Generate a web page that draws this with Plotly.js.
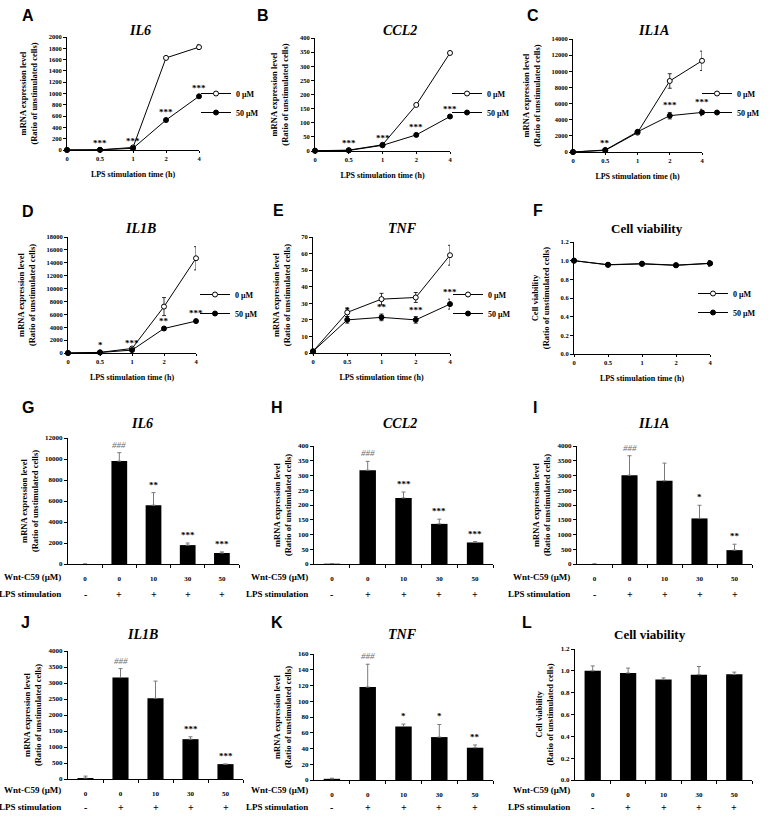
<!DOCTYPE html>
<html><head><meta charset="utf-8">
<script src="https://cdn.plot.ly/plotly-3.0.1.min.js"></script>
<style>html,body{margin:0;padding:0;background:#fff}</style>
</head><body><div id="chart" style="width:771px;height:820px"></div>
<script>
// ---------- DATA ----------
const timeCats = ['0','0.5','1','2','4'];
const seriesNames = ['0 \u03bcM', '50 \u03bcM'];

const il6Time0 = [1, 4, 45, 1630, 1820];
const il6Time0Err = [0, 0, 0, 15, 40];
const il6Time50 = [1, 3, 30, 530, 950];
const il6Time50Err = [0, 0, 0, 20, 20];
const il6TimeSig = ['', '***', '***', '***', '***'];

const ccl2Time0 = [1, 3, 22, 163, 347];
const ccl2Time0Err = [0, 0, 1, 3, 4];
const ccl2Time50 = [1, 2, 20, 57, 122];
const ccl2Time50Err = [0, 0, 1, 2, 3];
const ccl2TimeSig = ['', '***', '***', '***', '***'];

const il1aTime0 = [1, 200, 2400, 8800, 11300];
const il1aTime0Err = [0, 30, 150, 900, 1200];
const il1aTime50 = [1, 250, 2500, 4500, 4900];
const il1aTime50Err = [0, 50, 100, 400, 400];
const il1aTimeSig = ['', '**', '', '***', '***'];

const il1bTime0 = [1, 100, 700, 7200, 14700];
const il1bTime0Err = [0, 30, 100, 1400, 1800];
const il1bTime50 = [1, 80, 450, 3800, 4950];
const il1bTime50Err = [0, 20, 80, 150, 150];
const il1bTimeSig = ['', '*', '***', '**', '***'];

const tnfTime0 = [1, 24.5, 32.5, 33.5, 59];
const tnfTime0Err = [0, 2.5, 3.5, 3, 6];
const tnfTime50 = [1, 20, 21.5, 20, 29.5];
const tnfTime50Err = [0, 2, 2, 2, 3];
const tnfTimeSig = ['', '*', '**', '***', '***'];

const viabTime0 = [1.0, 0.955, 0.965, 0.95, 0.97];
const viabTime0Err = [0.01, 0.01, 0.01, 0.01, 0.03];
const viabTime50 = [1.0, 0.957, 0.968, 0.952, 0.972];
const viabTime50Err = [0.01, 0.01, 0.01, 0.01, 0.02];

const wntLabels = ['0', '0', '10', '30', '50'];
const lpsSigns = ['-', '+', '+', '+', '+'];

const il6Dose = [1, 9800, 5600, 1800, 1050];
const il6DoseErr = [0, 800, 1200, 200, 100];
const il6DoseSig = ['', '###', '**', '***', '***'];

const ccl2Dose = [1, 318, 224, 136, 73];
const ccl2DoseErr = [0, 30, 20, 16, 3];
const ccl2DoseSig = ['', '###', '***', '***', '***'];

const il1aDose = [1, 3010, 2820, 1545, 470];
const il1aDoseErr = [0, 660, 600, 445, 200];
const il1aDoseSig = ['', '###', '', '*', '**'];

const il1bDose = [30, 3170, 2520, 1245, 465];
const il1bDoseErr = [60, 280, 540, 75, 0];
const il1bDoseSig = ['', '###', '', '***', '***'];

const tnfDose = [1.5, 118, 68, 54.5, 41];
const tnfDoseErr = [0.8, 29, 3, 16, 3.5];
const tnfDoseSig = ['', '###', '*', '*', '**'];

const viabDose = [1.0, 0.98, 0.92, 0.965, 0.968];
const viabDoseErr = [0.045, 0.045, 0.015, 0.075, 0.02];
const viabDoseSig = ['', '', '', '', ''];

// ---------- LAYOUT HELPERS ----------
const W = 771, H = 820;
const fx = p => p / W, fy = p => 1 - p / H;
const SERIF = 'Liberation Serif, Times New Roman, serif';
const SANS = 'Liberation Sans, Arial, sans-serif';
const mrnaTitle = 'mRNA expression level<br>(Ratio of unstimulated cells)';
const viabTitle = 'Cell viability<br>(Ratio of unstimulated cells)';

const traces = [];
const annotations = [];
const layout = {
  width: W, height: H, autosize: false,
  margin: {l: 0, r: 0, t: 0, b: 0},
  paper_bgcolor: '#fff', plot_bgcolor: 'rgba(0,0,0,0)',
  showlegend: true,
  font: {family: SERIF, color: '#000'},
  annotations: annotations
};

function sfx(n) { return n === 1 ? '' : String(n); }

function addHeader(letter, lpos, title, tpos, italic) {
  annotations.push({xref: 'paper', yref: 'paper', x: fx(lpos[0]), y: fy(lpos[1]),
    xanchor: 'center', yanchor: 'middle', text: letter, showarrow: false,
    font: {family: SANS, size: 16, weight: 'bold', color: '#000'}});
  annotations.push({xref: 'paper', yref: 'paper', x: fx(tpos[0]), y: fy(tpos[1]),
    xanchor: 'center', yanchor: 'middle', text: title, showarrow: false,
    font: {family: SERIF, size: italic ? 14 : 13, weight: 'bold', style: italic ? 'italic' : 'normal', color: '#000'}});
}

function yAxisDef(n, box, yr, dtick, ytitle, fmt, tsize, standoff) {
  return {
    domain: [fy(box[3]), fy(box[2])], range: yr, dtick: dtick, tick0: 0,
    anchor: 'x' + sfx(n), showline: true, linecolor: '#000', linewidth: 1,
    ticks: 'outside', ticklen: 3, tickcolor: '#000', showgrid: false, zeroline: false,
    tickformat: fmt, fixedrange: true,
    tickfont: {family: SERIF, size: tsize, weight: 'bold', color: '#000'},
    title: {text: ytitle, standoff: standoff, font: {family: SERIF, size: 8.5, weight: 'bold', color: '#000'}}
  };
}

function linePanel(n, letter, lpos, title, tpos, italic, box, yr, dtick, fmt, ytitle,
                   v0, e0, v50, e50, sig, legPos) {
  addHeader(letter, lpos, title, tpos, italic);
  const s = sfx(n);
  layout['xaxis' + s] = {
    domain: [fx(box[0]), fx(box[1])], type: 'category', categoryarray: timeCats,
    range: [0, 4], anchor: 'y' + s, showline: true, linecolor: '#000', linewidth: 1,
    ticks: 'outside', ticklen: 2, tickcolor: '#000', showgrid: false, zeroline: false, fixedrange: true,
    tickfont: {family: SERIF, size: 6.5, weight: 'bold', color: '#000'},
    title: {text: 'LPS stimulation time (h)', standoff: 10,
            font: {family: SERIF, size: 8, weight: 'bold', color: '#000'}}
  };
  layout['yaxis' + s] = yAxisDef(n, box, yr, dtick, ytitle, fmt, 6.5, 9);
  const legName = 'legend' + s;
  layout[legName] = {x: fx(legPos[0]), y: fy(legPos[1]), xanchor: 'left', yanchor: 'top',
    bgcolor: 'rgba(0,0,0,0)', borderwidth: 0, itemwidth: 30, tracegroupgap: 0,
    font: {family: SERIF, size: 8, weight: 'bold', color: '#000'}};
  const common = {x: timeCats, xaxis: 'x' + s, yaxis: 'y' + s, type: 'scatter',
    mode: 'lines+markers', line: {color: '#000', width: 1}, cliponaxis: false, legend: legName};
  traces.push(Object.assign({}, common, {y: v0, name: seriesNames[0],
    error_y: {type: 'data', array: e0, visible: true, color: '#000', thickness: 0.8, width: 2},
    marker: {symbol: 'circle', size: 5, color: '#fff', line: {color: '#000', width: 1}}}));
  traces.push(Object.assign({}, common, {y: v50, name: seriesNames[1],
    error_y: {type: 'data', array: e50, visible: true, color: '#000', thickness: 0.8, width: 2},
    marker: {symbol: 'circle', size: 5, color: '#000', line: {color: '#000', width: 1}}}));
  sig.forEach((t, i) => {
    if (!t) return;
    annotations.push({xref: 'x' + s, yref: 'y' + s, x: i, y: v50[i] + e50[i],
      xanchor: 'center', yanchor: 'bottom', yshift: 0, text: t, showarrow: false,
      font: {family: SERIF, size: 9, weight: 'bold', color: '#000'}});
  });
}

function barPanel(n, letter, lpos, title, tpos, italic, box, yr, dtick, fmt, ytitle,
                  vals, errs, sig, rowY, rowRight) {
  addHeader(letter, lpos, title, tpos, italic);
  const s = sfx(n);
  const idx = wntLabels.map((_, i) => i);
  layout['xaxis' + s] = {
    domain: [fx(box[0]), fx(box[1])], type: 'linear', range: [-0.5, 4.5],
    anchor: 'y' + s, showline: true, linecolor: '#000', linewidth: 1,
    tickmode: 'array', tickvals: idx, ticktext: wntLabels, ticks: '', ticklabelstandoff: 8,
    minor: {tickmode: 'array', tickvals: idx.slice(1).map(i => i - 0.5).concat([4.5]),
            ticks: 'outside', ticklen: 3, tickcolor: '#000', showgrid: false},
    showgrid: false, zeroline: false, fixedrange: true,
    tickfont: {family: SERIF, size: 7, weight: 'bold', color: '#000'}
  };
  layout['yaxis' + s] = yAxisDef(n, box, yr, dtick, ytitle, fmt, 7, 5);
  traces.push({type: 'bar', x: idx, y: vals, xaxis: 'x' + s, yaxis: 'y' + s, width: 0.46,
    marker: {color: '#000', line: {width: 0}}, showlegend: false, cliponaxis: false,
    error_y: {type: 'data', symmetric: false, array: errs, arrayminus: errs.map(() => 0),
              visible: true, color: '#7a7a7a', thickness: 1, width: 2}});
  sig.forEach((t, i) => {
    if (!t) return;
    annotations.push({xref: 'x' + s, yref: 'y' + s, x: i, y: vals[i] + errs[i],
      xanchor: 'center', yanchor: 'bottom', yshift: 1, text: t, showarrow: false,
      font: {family: SERIF, size: 9, weight: t === '###' ? 'normal' : 'bold',
             style: t === '###' ? 'italic' : 'normal', color: t === '###' ? '#6e6e6e' : '#000'}});
  });
  lpsSigns.forEach((t, i) => {
    annotations.push({xref: 'x' + s, yref: 'paper', x: i, y: fy(rowY[1]),
      xanchor: 'center', yanchor: 'middle', text: t, showarrow: false,
      font: {family: SERIF, size: 10, weight: 'bold', color: '#000'}});
  });
  annotations.push({xref: 'paper', yref: 'paper', x: fx(rowRight), y: fy(rowY[0]),
    xanchor: 'right', yanchor: 'middle', text: 'Wnt-C59 (\u03bcM)', showarrow: false,
    font: {family: SERIF, size: 9, weight: 'bold', color: '#000'}});
  annotations.push({xref: 'paper', yref: 'paper', x: fx(rowRight), y: fy(rowY[1]),
    xanchor: 'right', yanchor: 'middle', text: 'LPS stimulation', showarrow: false,
    font: {family: SERIF, size: 9, weight: 'bold', color: '#000'}});
}

// ---------- PANELS ----------
linePanel(1, 'A', [28, 15], 'IL6', [140, 30], true, [67, 199, 37, 150], [0, 2000], 200, 'd', mrnaTitle,
  il6Time0, il6Time0Err, il6Time50, il6Time50Err, il6TimeSig, [196, 79]);
linePanel(2, 'B', [263, 15], 'CCL2', [400, 30], true, [315, 450, 38, 151], [0, 400], 50, 'd', mrnaTitle,
  ccl2Time0, ccl2Time0Err, ccl2Time50, ccl2Time50Err, ccl2TimeSig, [447, 79]);
linePanel(3, 'C', [533, 15], 'IL1A', [653, 30], true, [573, 702, 39, 152], [0, 14000], 2000, 'd', mrnaTitle,
  il1aTime0, il1aTime0Err, il1aTime50, il1aTime50Err, il1aTimeSig, [697, 79]);
linePanel(4, 'D', [28, 211], 'IL1B', [140, 228], true, [68, 196, 237, 353], [0, 18000], 2000, 'd', mrnaTitle,
  il1bTime0, il1bTime0Err, il1bTime50, il1bTime50Err, il1bTimeSig, [195, 280]);
linePanel(5, 'E', [278, 210], 'TNF', [402, 228], true, [313, 450, 237, 353], [0, 70], 10, 'd', mrnaTitle,
  tnfTime0, tnfTime0Err, tnfTime50, tnfTime50Err, tnfTimeSig, [448, 280]);
linePanel(6, 'F', [538, 210], 'Cell viability', [647, 228], false, [574, 710, 242, 354], [0, 1.2], 0.2, '.1f', viabTitle,
  viabTime0, viabTime0Err, viabTime50, viabTime50Err, ['', '', '', '', ''], [693, 279]);

barPanel(7, 'G', [28, 407], 'IL6', [142, 423], true, [68, 239, 438, 564], [0, 12000], 2000, 'd', mrnaTitle,
  il6Dose, il6DoseErr, il6DoseSig, [577, 594], 63);
barPanel(8, 'H', [277, 407], 'CCL2', [400, 423], true, [314, 493, 446, 564], [0, 400], 50, 'd', mrnaTitle,
  ccl2Dose, ccl2DoseErr, ccl2DoseSig, [577, 594], 310);
barPanel(9, 'I', [535, 407], 'IL1A', [653, 423], true, [577, 752, 446, 564], [0, 4000], 500, 'd', mrnaTitle,
  il1aDose, il1aDoseErr, il1aDoseSig, [577, 594], 572);
barPanel(10, 'J', [25, 622], 'IL1B', [142, 634], true, [68, 243, 651, 779], [0, 4000], 500, 'd', mrnaTitle,
  il1bDose, il1bDoseErr, il1bDoseSig, [790, 807], 63);
barPanel(11, 'K', [277, 622], 'TNF', [402, 634], true, [314, 493, 654, 780], [0, 160], 20, 'd', mrnaTitle,
  tnfDose, tnfDoseErr, tnfDoseSig, [790, 807], 310);
barPanel(12, 'L', [527, 622], 'Cell viability', [650, 634], false, [575, 752, 649, 780], [0, 1.2], 0.2, '.1f', viabTitle,
  viabDose, viabDoseErr, viabDoseSig, [790, 807], 572);

Plotly.newPlot('chart', traces, layout, {staticPlot: true, displayModeBar: false});
</script>
</body></html>
